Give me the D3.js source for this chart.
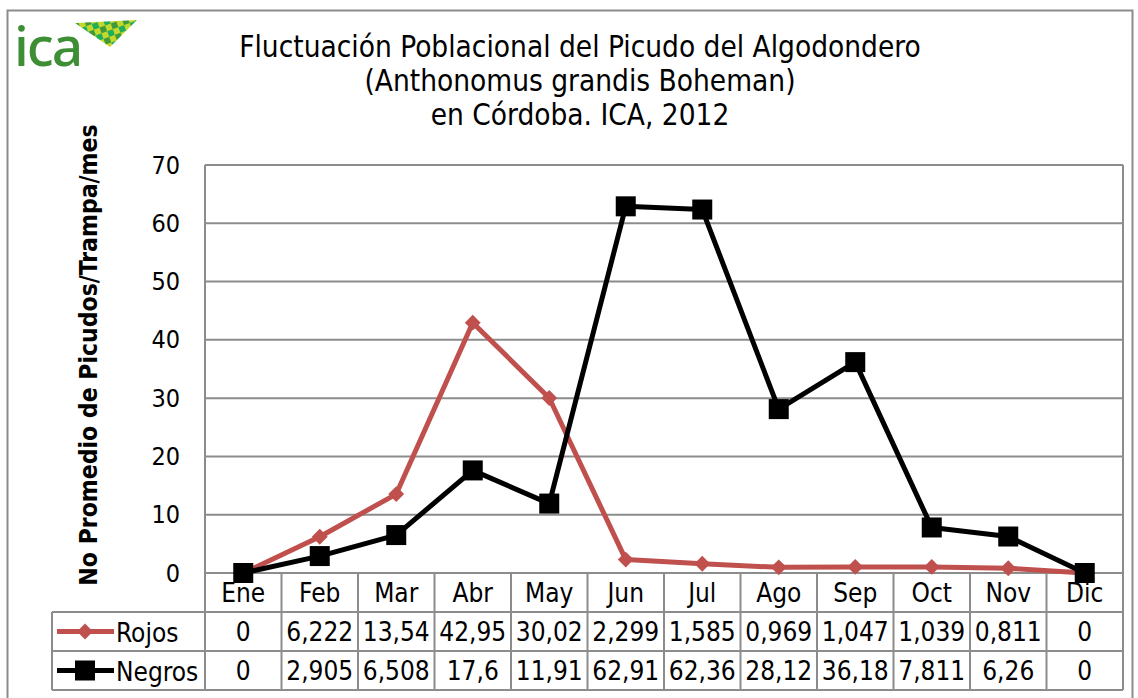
<!DOCTYPE html>
<html>
    <head>
        <meta charset="utf-8">
        <title>Fluctuación Poblacional del Picudo</title>
        <script type="text/javascript" src="https://cdnjs.cloudflare.com/ajax/libs/d3/7.8.5/d3.min.js"></script>
        <style>
            body { margin: 0; background: white; }
            text { font-family: "DejaVu Sans Condensed", "DejaVu Sans", sans-serif; fill: #000; }
        </style>
    </head>
    <body>
        <script type="text/javascript">

            // Data
            var months = ["Ene", "Feb", "Mar", "Abr", "May", "Jun", "Jul", "Ago", "Sep", "Oct", "Nov", "Dic"];
            var rojos = [0, 6.222, 13.54, 42.95, 30.02, 2.299, 1.585, 0.969, 1.047, 1.039, 0.811, 0];
            var negros = [0, 2.905, 6.508, 17.6, 11.91, 62.91, 62.36, 28.12, 36.18, 7.811, 6.26, 0];
            var yTicks = [0, 10, 20, 30, 40, 50, 60, 70];
            var titleLines = ["Fluctuación Poblacional del Picudo del Algodondero",
                              "(Anthonomus grandis Boheman)",
                              "en Córdoba. ICA, 2012"];

            // Dimensions
            var svg_width = 1138;
            var svg_height = 698;
            var plot_left = 205;
            var plot_right = 1123;
            var plot_top = 165;
            var plot_bottom = 573;
            var row_height = 39;
            var legend_left = 52;
            var grid_color = "#8c8c8c";
            var red = "#C0504D";

            var svg = d3.select("body")
                        .append("svg")
                        .attr("width", svg_width)
                        .attr("height", svg_height);

            // Outer frame
            svg.append("rect")
                .attr("x", 7.5)
                .attr("y", 10.5)
                .attr("width", 1125)
                .attr("height", 700)
                .attr("fill", "white")
                .attr("stroke", "#8c8c8c")
                .attr("stroke-width", 2);

            // Logo
            var logo = svg.append("g");
            var pat = svg.append("defs").append("pattern")
                         .attr("id", "chk")
                         .attr("width", 12)
                         .attr("height", 12)
                         .attr("patternUnits", "userSpaceOnUse")
                         .attr("patternTransform", "rotate(-20)");
            pat.append("rect").attr("width", 12).attr("height", 12).attr("fill", "#c5d82c");
            pat.append("rect").attr("width", 6).attr("height", 6).attr("fill", "#3f9a3c");
            pat.append("rect").attr("x", 6).attr("y", 6).attr("width", 6).attr("height", 6).attr("fill", "#1fae5c");
            logo.append("polygon")
                .attr("points", "75,23 137,20 110,47")
                .attr("fill", "url(#chk)");
            logo.append("text")
                .attr("x", 14)
                .attr("y", 66)
                .style("font-family", "'Noto Sans', sans-serif")
                .style("font-size", "55px")
                .style("font-weight", "500")
                .style("letter-spacing", "-2px")
                .style("fill", "#3e8e35")
                .text("ica");

            // Title
            svg.selectAll(".title")
                .data(titleLines)
                .enter()
                .append("text")
                .attr("class", "title")
                .attr("x", 580)
                .attr("y", function(d, i) { return 57 + i * 34; })
                .attr("text-anchor", "middle")
                .style("font-size", "29.5px")
                .text(function(d) { return d; });

            // Scales
            var xScale = d3.scaleBand()
                           .domain(months)
                           .range([plot_left, plot_right]);

            var yScale = d3.scaleLinear()
                           .domain([0, 70])
                           .range([plot_bottom, plot_top]);

            // Gridlines
            svg.append("g")
                .selectAll("line")
                .data(yTicks)
                .enter()
                .append("line")
                .attr("x1", plot_left)
                .attr("x2", plot_right)
                .attr("y1", function(d) { return yScale(d); })
                .attr("y2", function(d) { return yScale(d); })
                .attr("stroke", grid_color)
                .attr("stroke-width", 2);

            // Plot borders
            svg.append("line")
                .attr("x1", plot_left).attr("x2", plot_left)
                .attr("y1", plot_top).attr("y2", plot_bottom + 3 * row_height)
                .attr("stroke", grid_color).attr("stroke-width", 2);
            svg.append("line")
                .attr("x1", plot_right).attr("x2", plot_right)
                .attr("y1", plot_top).attr("y2", plot_bottom + 3 * row_height)
                .attr("stroke", grid_color).attr("stroke-width", 2);

            // Y axis
            var y_axis = svg.append("g")
                            .attr("transform", "translate(" + (plot_left - 25) + ",0)")
                            .call(d3.axisLeft(yScale).tickValues(yTicks).tickSize(0).tickPadding(0));
            y_axis.select(".domain").remove();
            y_axis.selectAll("text")
                  .style("font-size", "25px")
                  .style("font-family", "'DejaVu Sans Condensed', sans-serif");

            // Y axis label
            svg.append("text")
                .attr("transform", "translate(97," + 355 + ") rotate(-90)")
                .attr("text-anchor", "middle")
                .style("font-size", "24.5px")
                .style("font-weight", "bold")
                .text("No Promedio de Picudos/Trampa/mes");

            // Data table
            var table = svg.append("g");
            var rows = [rojos, negros];

            // horizontal lines of table
            [0, 1, 2, 3].forEach(function(r) {
                table.append("line")
                     .attr("x1", r == 0 ? plot_left : legend_left)
                     .attr("x2", plot_right)
                     .attr("y1", plot_bottom + r * row_height)
                     .attr("y2", plot_bottom + r * row_height)
                     .attr("stroke", grid_color)
                     .attr("stroke-width", 2);
            });
            table.append("line")
                 .attr("x1", legend_left).attr("x2", legend_left)
                 .attr("y1", plot_bottom + row_height).attr("y2", plot_bottom + 3 * row_height)
                 .attr("stroke", grid_color).attr("stroke-width", 2);

            // vertical lines of table
            table.selectAll(".vline")
                 .data(months.slice(1))
                 .enter()
                 .append("line")
                 .attr("x1", function(d) { return xScale(d); })
                 .attr("x2", function(d) { return xScale(d); })
                 .attr("y1", plot_bottom)
                 .attr("y2", plot_bottom + 3 * row_height)
                 .attr("stroke", grid_color)
                 .attr("stroke-width", 2);

            // month labels
            table.selectAll(".month")
                 .data(months)
                 .enter()
                 .append("text")
                 .attr("x", function(d) { return xScale(d) + xScale.bandwidth() / 2; })
                 .attr("y", plot_bottom + 29)
                 .attr("text-anchor", "middle")
                 .style("font-size", "26px")
                 .text(function(d) { return d; });

            // values
            rows.forEach(function(row, r) {
                table.selectAll(".val" + r)
                     .data(row)
                     .enter()
                     .append("text")
                     .attr("x", function(d, i) { return xScale(months[i]) + xScale.bandwidth() / 2; })
                     .attr("y", plot_bottom + (r + 1) * row_height + 29)
                     .attr("text-anchor", "middle")
                     .style("font-size", "26px")
                     .text(function(d) { return String(d).replace(".", ","); });
            });

            // Lines
            var line = d3.line()
                         .x(function(d, i) { return xScale(months[i]) + xScale.bandwidth() / 2; })
                         .y(function(d) { return yScale(d); });

            svg.append("path")
                .datum(rojos)
                .attr("d", line)
                .attr("fill", "none")
                .attr("stroke", red)
                .attr("stroke-width", 5)
                .attr("stroke-linejoin", "round");

            svg.append("path")
                .datum(negros)
                .attr("d", line)
                .attr("fill", "none")
                .attr("stroke", "black")
                .attr("stroke-width", 5)
                .attr("stroke-linejoin", "round");

            // Markers
            var diamond = d3.symbol().type(d3.symbolDiamond2).size(160);
            svg.selectAll(".rojo")
                .data(rojos)
                .enter()
                .append("path")
                .attr("d", diamond)
                .attr("transform", function(d, i) {
                    return "translate(" + (xScale(months[i]) + xScale.bandwidth() / 2) + "," + yScale(d) + ")";
                })
                .attr("fill", red);

            svg.selectAll(".negro")
                .data(negros)
                .enter()
                .append("rect")
                .attr("x", function(d, i) { return xScale(months[i]) + xScale.bandwidth() / 2 - 10; })
                .attr("y", function(d) { return yScale(d) - 10; })
                .attr("width", 20)
                .attr("height", 20)
                .attr("fill", "black");

            // Legend keys in the table
            var keys = [{name: "Rojos", color: red}, {name: "Negros", color: "black"}];
            keys.forEach(function(k, r) {
                var cy = plot_bottom + (r + 1) * row_height + row_height / 2;
                table.append("line")
                     .attr("x1", 57).attr("x2", 114)
                     .attr("y1", cy).attr("y2", cy)
                     .attr("stroke", k.color)
                     .attr("stroke-width", 5);
                if (r == 0) {
                    table.append("path")
                         .attr("d", diamond)
                         .attr("transform", "translate(85," + cy + ")")
                         .attr("fill", k.color);
                } else {
                    table.append("rect")
                         .attr("x", 75).attr("y", cy - 10)
                         .attr("width", 20).attr("height", 20)
                         .attr("fill", k.color);
                }
                table.append("text")
                     .attr("x", 116)
                     .attr("y", cy + 10)
                     .style("font-size", "26px")
                     .text(k.name);
            });

        </script>
    </body>
</html>
